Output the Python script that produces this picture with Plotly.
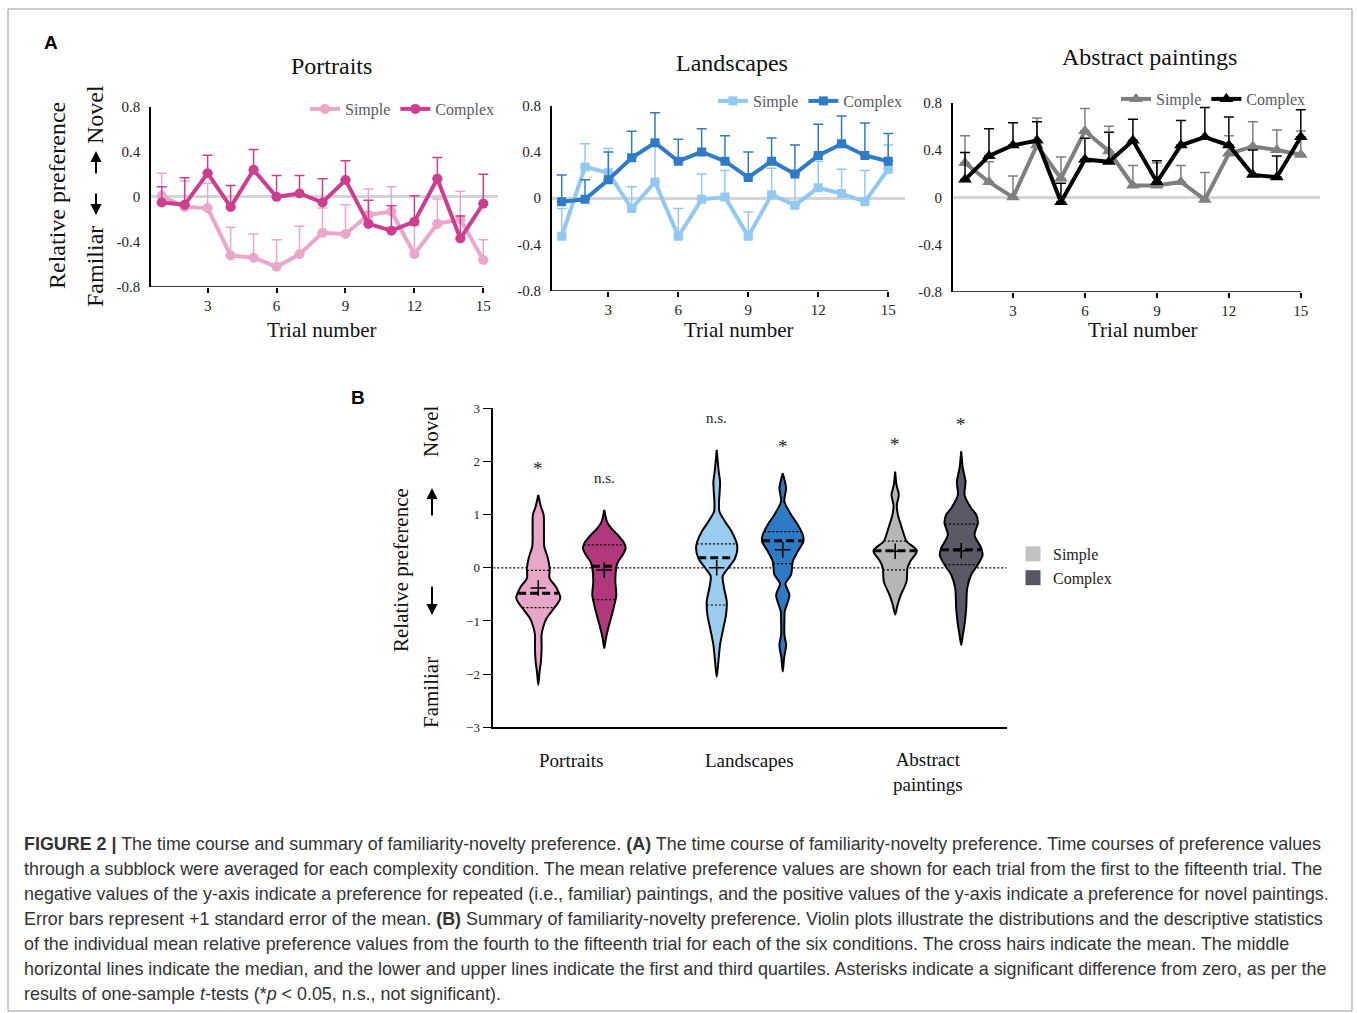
import numpy as np
import plotly.graph_objects as go

# ---------------- DATA ----------------
TRIALS = list(range(1, 16))

portraits_simple_mean = [0.01, -0.09, -0.10, -0.52, -0.54, -0.62, -0.51, -0.32, -0.33, -0.16, -0.13, -0.51, -0.24, -0.20, -0.56]
portraits_simple_se = [0.20, 0.23, 0.22, 0.25, 0.21, 0.24, 0.25, 0.22, 0.26, 0.23, 0.22, 0.26, 0.22, 0.25, 0.18]
portraits_complex_mean = [-0.05, -0.07, 0.21, -0.09, 0.24, 0.00, 0.03, -0.05, 0.15, -0.24, -0.30, -0.22, 0.16, -0.37, -0.06]
portraits_complex_se = [0.14, 0.24, 0.16, 0.19, 0.18, 0.19, 0.16, 0.21, 0.17, 0.21, 0.22, 0.23, 0.19, 0.20, 0.26]

landscapes_simple_mean = [-0.33, 0.27, 0.22, -0.09, 0.14, -0.33, -0.01, 0.01, -0.33, 0.03, -0.06, 0.09, 0.04, -0.03, 0.25]
landscapes_simple_se = [0.24, 0.20, 0.21, 0.19, 0.31, 0.24, 0.22, 0.23, 0.21, 0.23, 0.26, 0.23, 0.21, 0.27, 0.21]
landscapes_complex_mean = [-0.03, -0.01, 0.16, 0.35, 0.48, 0.32, 0.40, 0.32, 0.18, 0.32, 0.21, 0.37, 0.47, 0.37, 0.32]
landscapes_complex_se = [0.23, 0.17, 0.24, 0.23, 0.26, 0.19, 0.20, 0.22, 0.22, 0.20, 0.25, 0.27, 0.24, 0.28, 0.24]

abstract_simple_mean = [0.29, 0.13, 0.00, 0.44, 0.16, 0.56, 0.39, 0.10, 0.10, 0.13, -0.02, 0.37, 0.43, 0.40, 0.36]
abstract_simple_se = [0.23, 0.17, 0.18, 0.23, 0.18, 0.19, 0.21, 0.17, 0.19, 0.14, 0.23, 0.15, 0.21, 0.17, 0.20]
abstract_complex_mean = [0.15, 0.35, 0.44, 0.48, -0.04, 0.32, 0.30, 0.48, 0.13, 0.44, 0.51, 0.44, 0.19, 0.17, 0.51]
abstract_complex_se = [0.23, 0.23, 0.19, 0.16, 0.16, 0.18, 0.25, 0.18, 0.18, 0.21, 0.25, 0.24, 0.21, 0.18, 0.23]

A_TICKS = [-0.8, -0.4, 0, 0.4, 0.8]
A_TICK_TEXT = ["-0.8", "-0.4", "0", "0.4", "0.8"]
TRIAL_TICKS = [3, 6, 9, 12, 15]

# Panel B: violin density profiles (value levels, relative density), stats
categories = ["Portraits", "Landscapes", "Abstract<br>paintings"]
conditions = ["Simple", "Complex"]

ps_levels = [-2.2, -1.95, -1.76, -1.5, -1.25, -1.07, -0.95, -0.82, -0.57, -0.35, -0.2, 0.0, 0.2, 0.4, 0.75, 1.0, 1.15, 1.37]
ps_density = [0, 4, 8, 10, 10, 17, 25, 40, 66, 52, 34, 34, 28, 18, 17, 16, 8, 0]
pc_levels = [-1.51, -1.32, -1.13, -0.95, -0.7, -0.51, -0.26, 0.0, 0.12, 0.24, 0.37, 0.46, 0.62, 0.75, 0.87, 1.09]
pc_density = [0, 5, 12, 20, 30, 36, 33, 36, 42, 55, 64, 60, 40, 20, 8, 0]
ls_levels = [-2.05, -1.76, -1.45, -1.13, -0.88, -0.63, -0.38, -0.16, 0.0, 0.18, 0.37, 0.5, 0.68, 0.87, 1.06, 1.25, 1.45, 1.62, 1.81, 2.22]
ls_density = [0, 5, 10, 20, 28, 30, 22, 18, 35, 55, 62, 58, 45, 25, 8, 7, 9, 10, 6, 0]
lc_levels = [-1.95, -1.7, -1.45, -1.26, -1.0, -0.82, -0.51, -0.3, -0.13, 0.12, 0.31, 0.5, 0.62, 0.81, 1.0, 1.25, 1.5, 1.78]
lc_density = [0, 4, 10, 5, 5, 6, 20, 8, 25, 30, 45, 62, 60, 45, 25, 5, 10, 0]
as_levels = [-0.88, -0.7, -0.51, -0.26, 0.0, 0.12, 0.32, 0.5, 0.65, 0.81, 1.0, 1.18, 1.37, 1.56, 1.81]
as_density = [0, 7, 17, 34, 37, 45, 65, 34, 25, 17, 8, 5, 11, 4, 0]
ac_levels = [-1.45, -1.26, -1.07, -0.76, -0.38, -0.13, 0.06, 0.24, 0.37, 0.62, 0.84, 1.0, 1.12, 1.37, 1.62, 1.87, 2.19]
ac_density = [0, 5, 10, 15, 18, 30, 50, 64, 60, 40, 50, 45, 30, 10, 13, 5, 0]

b_median = [-0.48, 0.03, 0.19, 0.51, 0.32, 0.34]
b_q1 = [-0.75, -0.60, -0.70, 0.08, -0.04, 0.06]
b_q3 = [-0.05, 0.43, 0.45, 0.68, 0.50, 0.82]
b_mean = [-0.38, -0.04, 0.00, 0.34, 0.31, 0.32]
b_sig = ["*", "n.s.", "n.s.", "*", "*", "*"]
B_TICKS = [-3, -2, -1, 0, 1, 2, 3]

# ---------------- STYLE / LAYOUT ----------------
W, H = 1357, 1013
def px(x): return x / W
def py(y): return 1 - y / H

SERIF = "Liberation Serif, Times New Roman, serif"
SANS = "Liberation Sans, Arial, sans-serif"

fig = go.Figure()

panelA = [
    ("", "legend", portraits_simple_mean, portraits_simple_se, portraits_complex_mean, portraits_complex_se,
     "#e9a7ca", "#cc3f8f", "circle", 10),
    ("2", "legend2", landscapes_simple_mean, landscapes_simple_se, landscapes_complex_mean, landscapes_complex_se,
     "#93c9ee", "#2f7bc5", "square", 9),
    ("3", "legend3", abstract_simple_mean, abstract_simple_se, abstract_complex_mean, abstract_complex_se,
     "#7f7f7f", "#000000", "triangle-up", 12),
]
for sfx, leg, sm, sse, cm, cse, cs, cc, sym, msz in panelA:
    for name, m, se, col in (("Simple", sm, sse, cs), ("Complex", cm, cse, cc)):
        fig.add_trace(go.Scatter(
            x=TRIALS, y=m, mode="lines+markers", name=name,
            line=dict(color=col, width=4),
            marker=dict(symbol=sym, size=msz, color=col),
            error_y=dict(type="data", symmetric=False, array=se, arrayminus=[0] * len(se),
                         color=col, thickness=1.5, width=5),
            xaxis="x" + sfx, yaxis="y" + sfx, legend=leg))

# x-axis baseline segments for panel A (from left axis to last trial)
A_RANGES = {"": [0.534, 15.64], "2": [0.571, 15.72], "3": [0.487, 15.80]}
shapes = []
for sfx, rng in A_RANGES.items():
    shapes.append(dict(type="line", xref="x" + sfx, yref="y" + sfx, x0=rng[0], x1=TRIALS[-1],
                       y0=A_TICKS[0], y1=A_TICKS[0], line=dict(color="black", width=1.5)))

# ---------------- Panel B violins ----------------
profiles = [(ps_levels, ps_density), (pc_levels, pc_density),
            (ls_levels, ls_density), (lc_levels, lc_density),
            (as_levels, as_density), (ac_levels, ac_density)]
fills = ["#e8a6c9", "#b1397b", "#99ccef", "#2d7bc4", "#b6b6b6", "#5a5a66"]
OFFSET = 0.185
SCALE = 0.00187
for i, ((lv, dn), fc) in enumerate(zip(profiles, fills)):
    center = i // 2 + (-OFFSET if i % 2 == 0 else OFFSET)
    lv = np.array(lv, float)
    dn = np.array(dn, float) * SCALE
    xs = np.concatenate([center + dn, (center - dn)[::-1]])
    ys = np.concatenate([lv, lv[::-1]])
    fig.add_trace(go.Scatter(x=xs, y=ys, mode="lines", fill="toself", fillcolor=fc,
                             line=dict(color="black", width=2, shape="spline", smoothing=0.8),
                             xaxis="x4", yaxis="y4", showlegend=False, hoverinfo="skip"))
    for val, dash, wd in ((b_q1[i], "2px,2px", 1.2), (b_q3[i], "2px,2px", 1.2), (b_median[i], "8px,4px", 3)):
        hw = np.interp(val, lv, dn)
        fig.add_trace(go.Scatter(x=[center - hw, center + hw], y=[val, val], mode="lines",
                                 line=dict(color="black", width=wd, dash=dash),
                                 xaxis="x4", yaxis="y4", showlegend=False, hoverinfo="skip"))
    fig.add_trace(go.Scatter(x=[center], y=[b_mean[i]], mode="markers",
                             marker=dict(symbol="cross-thin", size=11, line=dict(width=1.6, color="black")),
                             xaxis="x4", yaxis="y4", showlegend=False, hoverinfo="skip"))

# legend entries for panel B
for name, col in (("Simple", "#c2c2c2"), ("Complex", "#575761")):
    fig.add_trace(go.Scatter(x=[None], y=[None], mode="markers", name=name,
                             marker=dict(symbol="square", size=15, color=col),
                             xaxis="x4", yaxis="y4", legend="legend4"))

annotations = []
def note(txt, x, y, size, family=SERIF, color="#111", angle=0, xanchor="center", yanchor="middle"):
    annotations.append(dict(x=px(x), y=py(y), xref="paper", yref="paper", text=txt, textangle=angle,
                            showarrow=False, xanchor=xanchor, yanchor=yanchor,
                            font=dict(family=family, size=size, color=color)))

for i in range(6):
    center = i // 2 + (-OFFSET if i % 2 == 0 else OFFSET)
    top = max(profiles[i][0])
    star = b_sig[i] == "*"
    annotations.append(dict(x=center, y=top + (0.50 if star else 0.60), xref="x4", yref="y4",
                            text=b_sig[i], showarrow=False, xanchor="center", yanchor="middle",
                            font=dict(family=SERIF, size=19 if star else 15, color="#222")))
for g, cat in enumerate(categories):
    annotations.append(dict(x=g, y=py(772 if "<br>" in cat else 760), xref="x4", yref="paper", text=cat,
                            showarrow=False, xanchor="center", yanchor="middle",
                            font=dict(family=SERIF, size=19, color="#111")))

# zero dotted line in B
shapes.append(dict(type="line", xref="x4", yref="y4", x0=-0.437, x1=2.44, y0=0, y1=0, layer="below",
                   line=dict(color="black", width=1.2, dash="2px,2px")))

# border of figure
shapes.append(dict(type="rect", xref="paper", yref="paper", x0=px(8), x1=px(1352), y0=py(1011), y1=py(9),
                   line=dict(color="#9a9a9a", width=1)))

# titles panel A
for txt, x, y in (("Portraits", 331, 66), ("Landscapes", 732, 63), ("Abstract paintings", 1149, 57)):
    note(txt, x, y, 24)
for x in (321, 738, 1142):
    note("Trial number", x, 330, 21)

def arrow(x, ytail, ytip):
    annotations.append(dict(x=px(x), y=py(ytip), xref="paper", yref="paper", text="",
                            showarrow=True, ax=0, ay=ytail - ytip, arrowhead=2, arrowsize=1.1,
                            arrowwidth=2, arrowcolor="black"))

note("Relative preference", 57, 196, 24, angle=-90)
note("Novel", 95, 115, 24, angle=-90)
note("Familiar", 95, 267, 24, angle=-90)
arrow(96, 175, 151)
arrow(96, 192, 215)
note("Relative preference", 401, 570, 21, angle=-90)
note("Novel", 431, 432, 21, angle=-90)
note("Familiar", 431, 693, 21, angle=-90)
arrow(432, 517, 488)
arrow(432, 585, 615)

# panel letters
note("<b>A</b>", 51, 42, 19, family=SANS, color="black")
note("<b>B</b>", 358, 397, 19, family=SANS, color="black")

# caption
caption = [
    "<b>FIGURE 2 |</b> The time course and summary of familiarity-novelty preference. <b>(A)</b> The time course of familiarity-novelty preference. Time courses of preference values",
    "through a subblock were averaged for each complexity condition. The mean relative preference values are shown for each trial from the first to the fifteenth trial. The",
    "negative values of the y-axis indicate a preference for repeated (i.e., familiar) paintings, and the positive values of the y-axis indicate a preference for novel paintings.",
    "Error bars represent +1 standard error of the mean. <b>(B)</b> Summary of familiarity-novelty preference. Violin plots illustrate the distributions and the descriptive statistics",
    "of the individual mean relative preference values from the fourth to the fifteenth trial for each of the six conditions. The cross hairs indicate the mean. The middle",
    "horizontal lines indicate the median, and the lower and upper lines indicate the first and third quartiles. Asterisks indicate a significant difference from zero, as per the",
    "results of one-sample <i>t</i>-tests (*<i>p</i> &lt; 0.05, n.s., not significant).",
]
for k, line in enumerate(caption):
    note(line, 22, 844 + 25 * k, 17.9, family=SANS, color="#333", xanchor="left")

tickA = dict(family=SERIF, size=15, color="#222")
def xA(dom, rng, anchor):
    return dict(domain=[px(dom[0]), px(dom[1])], range=rng, anchor=anchor, tickvals=TRIAL_TICKS,
                ticks="outside", ticklen=5, tickwidth=1.5, tickcolor="black", showline=False,
                showgrid=False, zeroline=False, tickfont=tickA, fixedrange=True)
def yA(dom, anchor):
    return dict(domain=[py(dom[1]), py(dom[0])], range=[-0.8, 0.8], anchor=anchor, tickvals=A_TICKS,
                ticktext=A_TICK_TEXT, ticks="", showline=True, linecolor="black", linewidth=1.5,
                showgrid=False, zeroline=True, zerolinecolor="#d4d4d4", zerolinewidth=2.5,
                tickfont=tickA, ticklabelstandoff=6, fixedrange=True)

legA = dict(orientation="h", xanchor="right", yanchor="middle", bgcolor="rgba(0,0,0,0)",
            font=dict(family=SERIF, size=16, color="#5a5a5a"), itemwidth=30, itemclick=False)

fig.update_layout(
    autosize=True, margin=dict(l=0, r=0, t=0, b=0, autoexpand=False),
    paper_bgcolor="white", plot_bgcolor="white",
    xaxis=xA((151, 498), A_RANGES[""], "y"),
    yaxis=yA((106.7, 287), "x"),
    xaxis2=xA((551.7, 905), A_RANGES["2"], "y2"),
    yaxis2=yA((105.7, 290.7), "x2"),
    xaxis3=xA((952.7, 1320), A_RANGES["3"], "y3"),
    yaxis3=yA((102.7, 292), "x3"),
    xaxis4=dict(domain=[px(493.3), px(1006.7)], range=[-0.437, 2.44], anchor="y4", showline=True,
                linecolor="black", linewidth=1.5, showticklabels=False, ticks="", showgrid=False,
                zeroline=False, fixedrange=True),
    yaxis4=dict(domain=[py(727.3), py(408.3)], range=[-3, 3], anchor="x4", tickvals=B_TICKS,
                ticks="outside", ticklen=9, tickwidth=1.2, tickcolor="black", showline=True,
                linecolor="black", linewidth=1.5, showgrid=False, zeroline=False,
                tickfont=dict(family=SERIF, size=13, color="#222"), fixedrange=True),
    legend=dict(legA, x=px(500), y=py(109)),
    legend2=dict(legA, x=px(908), y=py(101)),
    legend3=dict(legA, x=px(1311), y=py(99)),
    legend4=dict(orientation="v", x=px(1013), xanchor="left", y=py(566), yanchor="middle",
                 bgcolor="rgba(0,0,0,0)", font=dict(family=SERIF, size=16, color="#222"),
                 itemclick=False),
    shapes=shapes, annotations=annotations, showlegend=True,
)

fig.write_html(
    "out.html",
    config={"displayModeBar": False, "responsive": True},
    default_width="100vw", default_height="100vh",
    post_script="document.documentElement.style.margin='0';document.body.style.margin='0';"
                "document.documentElement.style.overflow='hidden';document.body.style.overflow='hidden';"
                "window.dispatchEvent(new Event('resize'));",
)
